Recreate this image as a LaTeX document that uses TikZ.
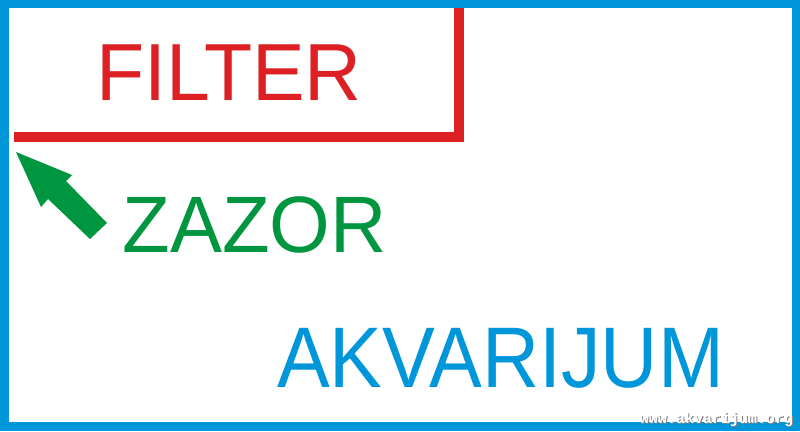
\documentclass[tikz,border=0pt]{standalone}
\usepackage{fontspec}
\setmainfont{Liberation Sans}
\newfontfamily\wmfont{Liberation Mono}
\definecolor{aqblue}{RGB}{0,150,218}
\definecolor{aqred}{RGB}{221,32,36}
\definecolor{aqgreen}{RGB}{0,150,64}
\begin{document}
\begin{tikzpicture}[x=1pt,y=-1pt,
  label/.style={inner sep=0pt,outer sep=0pt,anchor=base west},
  wall/.style={draw=aqred,line width=10pt}]
\useasboundingbox (0,0) rectangle (800,431);
\fill[aqblue] (0,0) rectangle (800,431);
\fill[white] (9,8) rectangle (792,422);
\coordinate (ftop) at (459,8);
\coordinate (fcorner) at (459,137);
\coordinate (fend) at (14,137);
\draw[wall] (ftop) -- (fcorner) -- (fend);
\node[label,text=aqred,font=\fontsize{81}{81}\selectfont] (filter) at (96,100) {\scalebox{0.974}[1]{FILTER}};
\node[label,text=aqgreen,font=\fontsize{80}{80}\selectfont] (zazor) at (122.5,252) {\scalebox{0.975}[1]{ZAZOR}};
\node[label,text=aqblue,font=\fontsize{86}{86}\selectfont] (akv) at (277,387) {\scalebox{0.92}[1]{AKVARIJUM}};
\fill[aqgreen] (16,152) -- (72,175) -- (66,181) -- (107,223) -- (90,239) -- (48,199) -- (41,207) -- cycle;
\node[label,text=gray,font=\wmfont\bfseries\fontsize{15}{15}\selectfont] (wms) at (641,424) {www.akvarijum.org};
\node[label,text=white,font=\wmfont\bfseries\fontsize{15}{15}\selectfont] (wm) at (640,423) {www.akvarijum.org};
\end{tikzpicture}
\end{document}
